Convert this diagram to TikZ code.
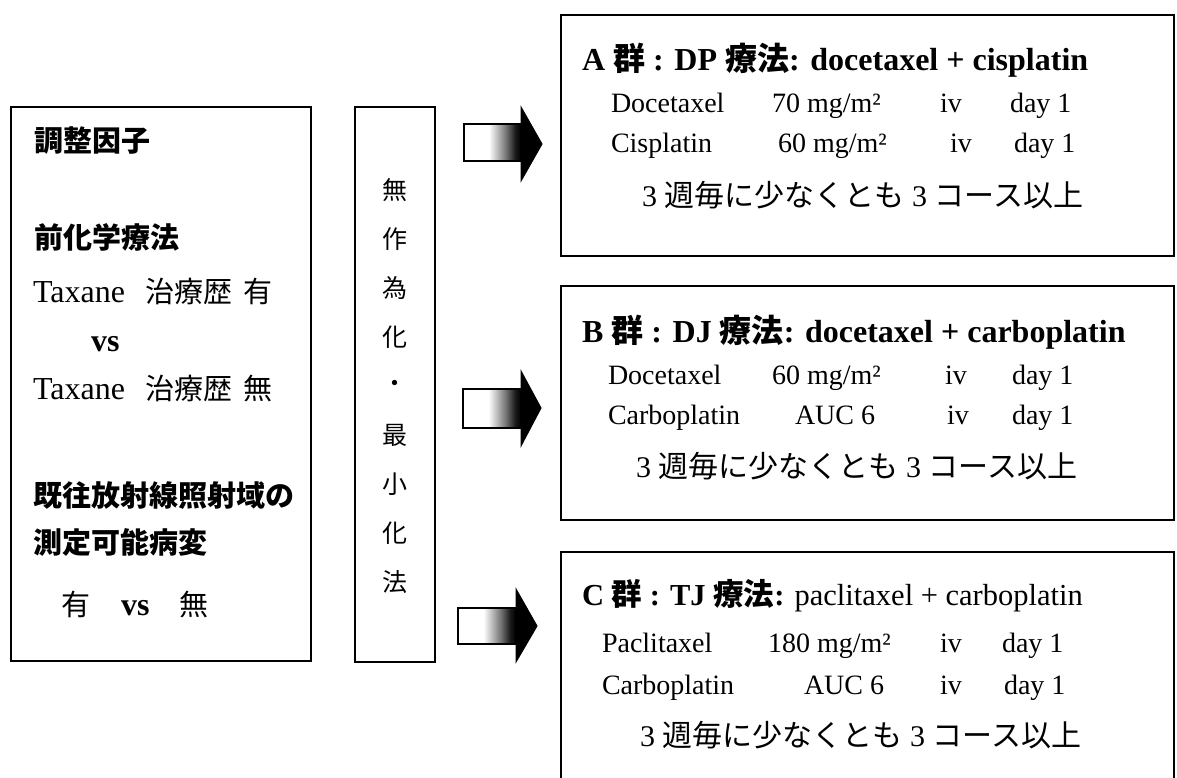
\documentclass[tikz,border=0pt]{standalone}
\usepackage{fontspec}
\setmainfont{Liberation Serif}
\newfontfamily\cjk{Noto Sans CJK JP}
\newcommand{\jp}[1]{{\cjk #1}}
\newcommand{\fs}[1]{\fontsize{#1}{#1}\selectfont}
\pgfdeclarehorizontalshading{arrowsh}{100bp}{color(0bp)=(white); color(25bp)=(white); color(47bp)=(white); color(62bp)=(black!55); color(70bp)=(black!90); color(75bp)=(black); color(100bp)=(black)}
\begin{document}
\begin{tikzpicture}[x=1pt,y=-1pt,
  box/.style={draw=black, line width=2.4pt, inner sep=0pt, outer sep=0pt},
  t/.style={anchor=base west, inner sep=0pt, outer sep=0pt},
  lh/.style={t, font=\fs{29}\cjk\bfseries},
  lt/.style={t, font=\fs{32}},
  mid/.style={anchor=center, inner sep=0pt, font=\fs{25}\cjk},
  ttl/.style={t, font=\fs{32}\bfseries},
  row/.style={t, font=\fs{28}},
  cyc/.style={t, font=\fs{30}},
  shaft/.style={draw=black, line width=1.8pt, shading=arrowsh},
  head/.style={fill=black, draw=black, line width=1pt, line join=miter}
]
\useasboundingbox (0,0) rectangle (1177,778);
\fill[white] (0,0) rectangle (1177,778);

% boxes
\node[box, minimum width=300pt, minimum height=554pt] (adj) at (161,384) {};
\node[box, minimum width=80pt, minimum height=555pt] (rand) at (395,384.5) {};
\node[box, minimum width=613pt, minimum height=241pt] (armA) at (867.5,135.5) {};
\node[box, minimum width=613pt, minimum height=234pt] (armB) at (867.5,403) {};
\coordinate (cBL) at (561,778);
\coordinate (cTL) at (561,552);
\coordinate (cTR) at (1174,552);
\coordinate (cBR) at (1174,778);
\draw[line width=2.4pt, line join=miter] (cBL) -- (cTL) -- (cTR) -- (cBR);

% left box text
\node[lh] (h1) at (34,152) {調整因子};
\node[lh] (h2) at (34,248) {前化学療法};
\node[lt] (tx1) at (33,302) {Taxane};
\node[t, font=\fs{29}\cjk] (tx1j) at (145,302) {治療歴};
\node[t, font=\fs{29}\cjk] (tx1y) at (243,302) {有};
\node[lt, font=\fs{32}\bfseries] (vs1) at (91,351) {vs};
\node[lt] (tx2) at (33,399) {Taxane};
\node[t, font=\fs{29}\cjk] (tx2j) at (145,399) {治療歴};
\node[t, font=\fs{29}\cjk] (tx2n) at (243,399) {無};
\node[lh] (h3) at (33,506) {既往放射線照射域の};
\node[lh] (h4) at (33,553) {測定可能病変};
\node[t, font=\fs{29}\cjk] (y2) at (61,615) {有};
\node[lt, font=\fs{32}\bfseries] (vs2) at (121,615) {vs};
\node[t, font=\fs{29}\cjk] (n2) at (179,615) {無};

% middle vertical text
\node[mid] (m1) at (395,190) {無};
\node[mid] (m2) at (395,239) {作};
\node[mid] (m3) at (395,288) {為};
\node[mid] (m4) at (395,337) {化};
\node[mid] (m5) at (395,386) {・};
\node[mid] (m6) at (395,435) {最};
\node[mid] (m7) at (395,484) {小};
\node[mid] (m8) at (395,533) {化};
\node[mid] (m9) at (395,582) {法};

% arrows
\coordinate (a1s1) at (464,124); \coordinate (a1s2) at (521,161);
\shade[shaft] (a1s1) rectangle (a1s2);
\coordinate (a1t) at (521,107); \coordinate (a1p) at (542,144); \coordinate (a1b) at (521,181);
\filldraw[head] (a1t) -- (a1p) -- (a1b) -- cycle;

\coordinate (a2s1) at (463,389); \coordinate (a2s2) at (521,428);
\shade[shaft] (a2s1) rectangle (a2s2);
\coordinate (a2t) at (521,371); \coordinate (a2p) at (541,408); \coordinate (a2b) at (521,446);
\filldraw[head] (a2t) -- (a2p) -- (a2b) -- cycle;

\coordinate (a3s1) at (458,608); \coordinate (a3s2) at (516,644);
\shade[shaft] (a3s1) rectangle (a3s2);
\coordinate (a3t) at (516,589); \coordinate (a3p) at (537,626); \coordinate (a3b) at (516,662);
\filldraw[head] (a3t) -- (a3p) -- (a3b) -- cycle;

% arm A
\node[ttl] (tA) at (582,71) {A \jp{群} : DP \jp{療法}: docetaxel + cisplatin};
\node[row] (a11) at (611,113) {Docetaxel};
\node[row] (a12) at (772,113) {70 mg/m²};
\node[row] (a13) at (940,113) {iv};
\node[row] (a14) at (1010,113) {day 1};
\node[row] (a21) at (611,153) {Cisplatin};
\node[row] (a22) at (778,153) {60 mg/m²};
\node[row] (a23) at (950,153) {iv};
\node[row] (a24) at (1014,153) {day 1};
\node[cyc] (cA) at (642,206) {3 \jp{週毎に少なくとも} 3 \jp{コース以上}};

% arm B
\node[ttl] (tB) at (582,342) {B \jp{群} : DJ \jp{療法}: docetaxel + carboplatin};
\node[row] (b11) at (608,384) {Docetaxel};
\node[row] (b12) at (772,384) {60 mg/m²};
\node[row] (b13) at (945,384) {iv};
\node[row] (b14) at (1012,384) {day 1};
\node[row] (b21) at (608,424) {Carboplatin};
\node[row] (b22) at (795,424) {AUC 6};
\node[row] (b23) at (947,424) {iv};
\node[row] (b24) at (1012,424) {day 1};
\node[cyc] (cB) at (636,477) {3 \jp{週毎に少なくとも} 3 \jp{コース以上}};

% arm C
\node[ttl, font=\fs{30.5}\bfseries] (tC) at (582,605) {C \jp{群} : TJ \jp{療法}:\mdseries{} paclitaxel + carboplatin};
\node[row] (c11) at (602,652) {Paclitaxel};
\node[row] (c12) at (768,652) {180 mg/m²};
\node[row] (c13) at (940,652) {iv};
\node[row] (c14) at (1002,652) {day 1};
\node[row] (c21) at (602,694) {Carboplatin};
\node[row] (c22) at (804,694) {AUC 6};
\node[row] (c23) at (940,694) {iv};
\node[row] (c24) at (1004,694) {day 1};
\node[cyc] (cC) at (640,746) {3 \jp{週毎に少なくとも} 3 \jp{コース以上}};
\end{tikzpicture}
\end{document}
